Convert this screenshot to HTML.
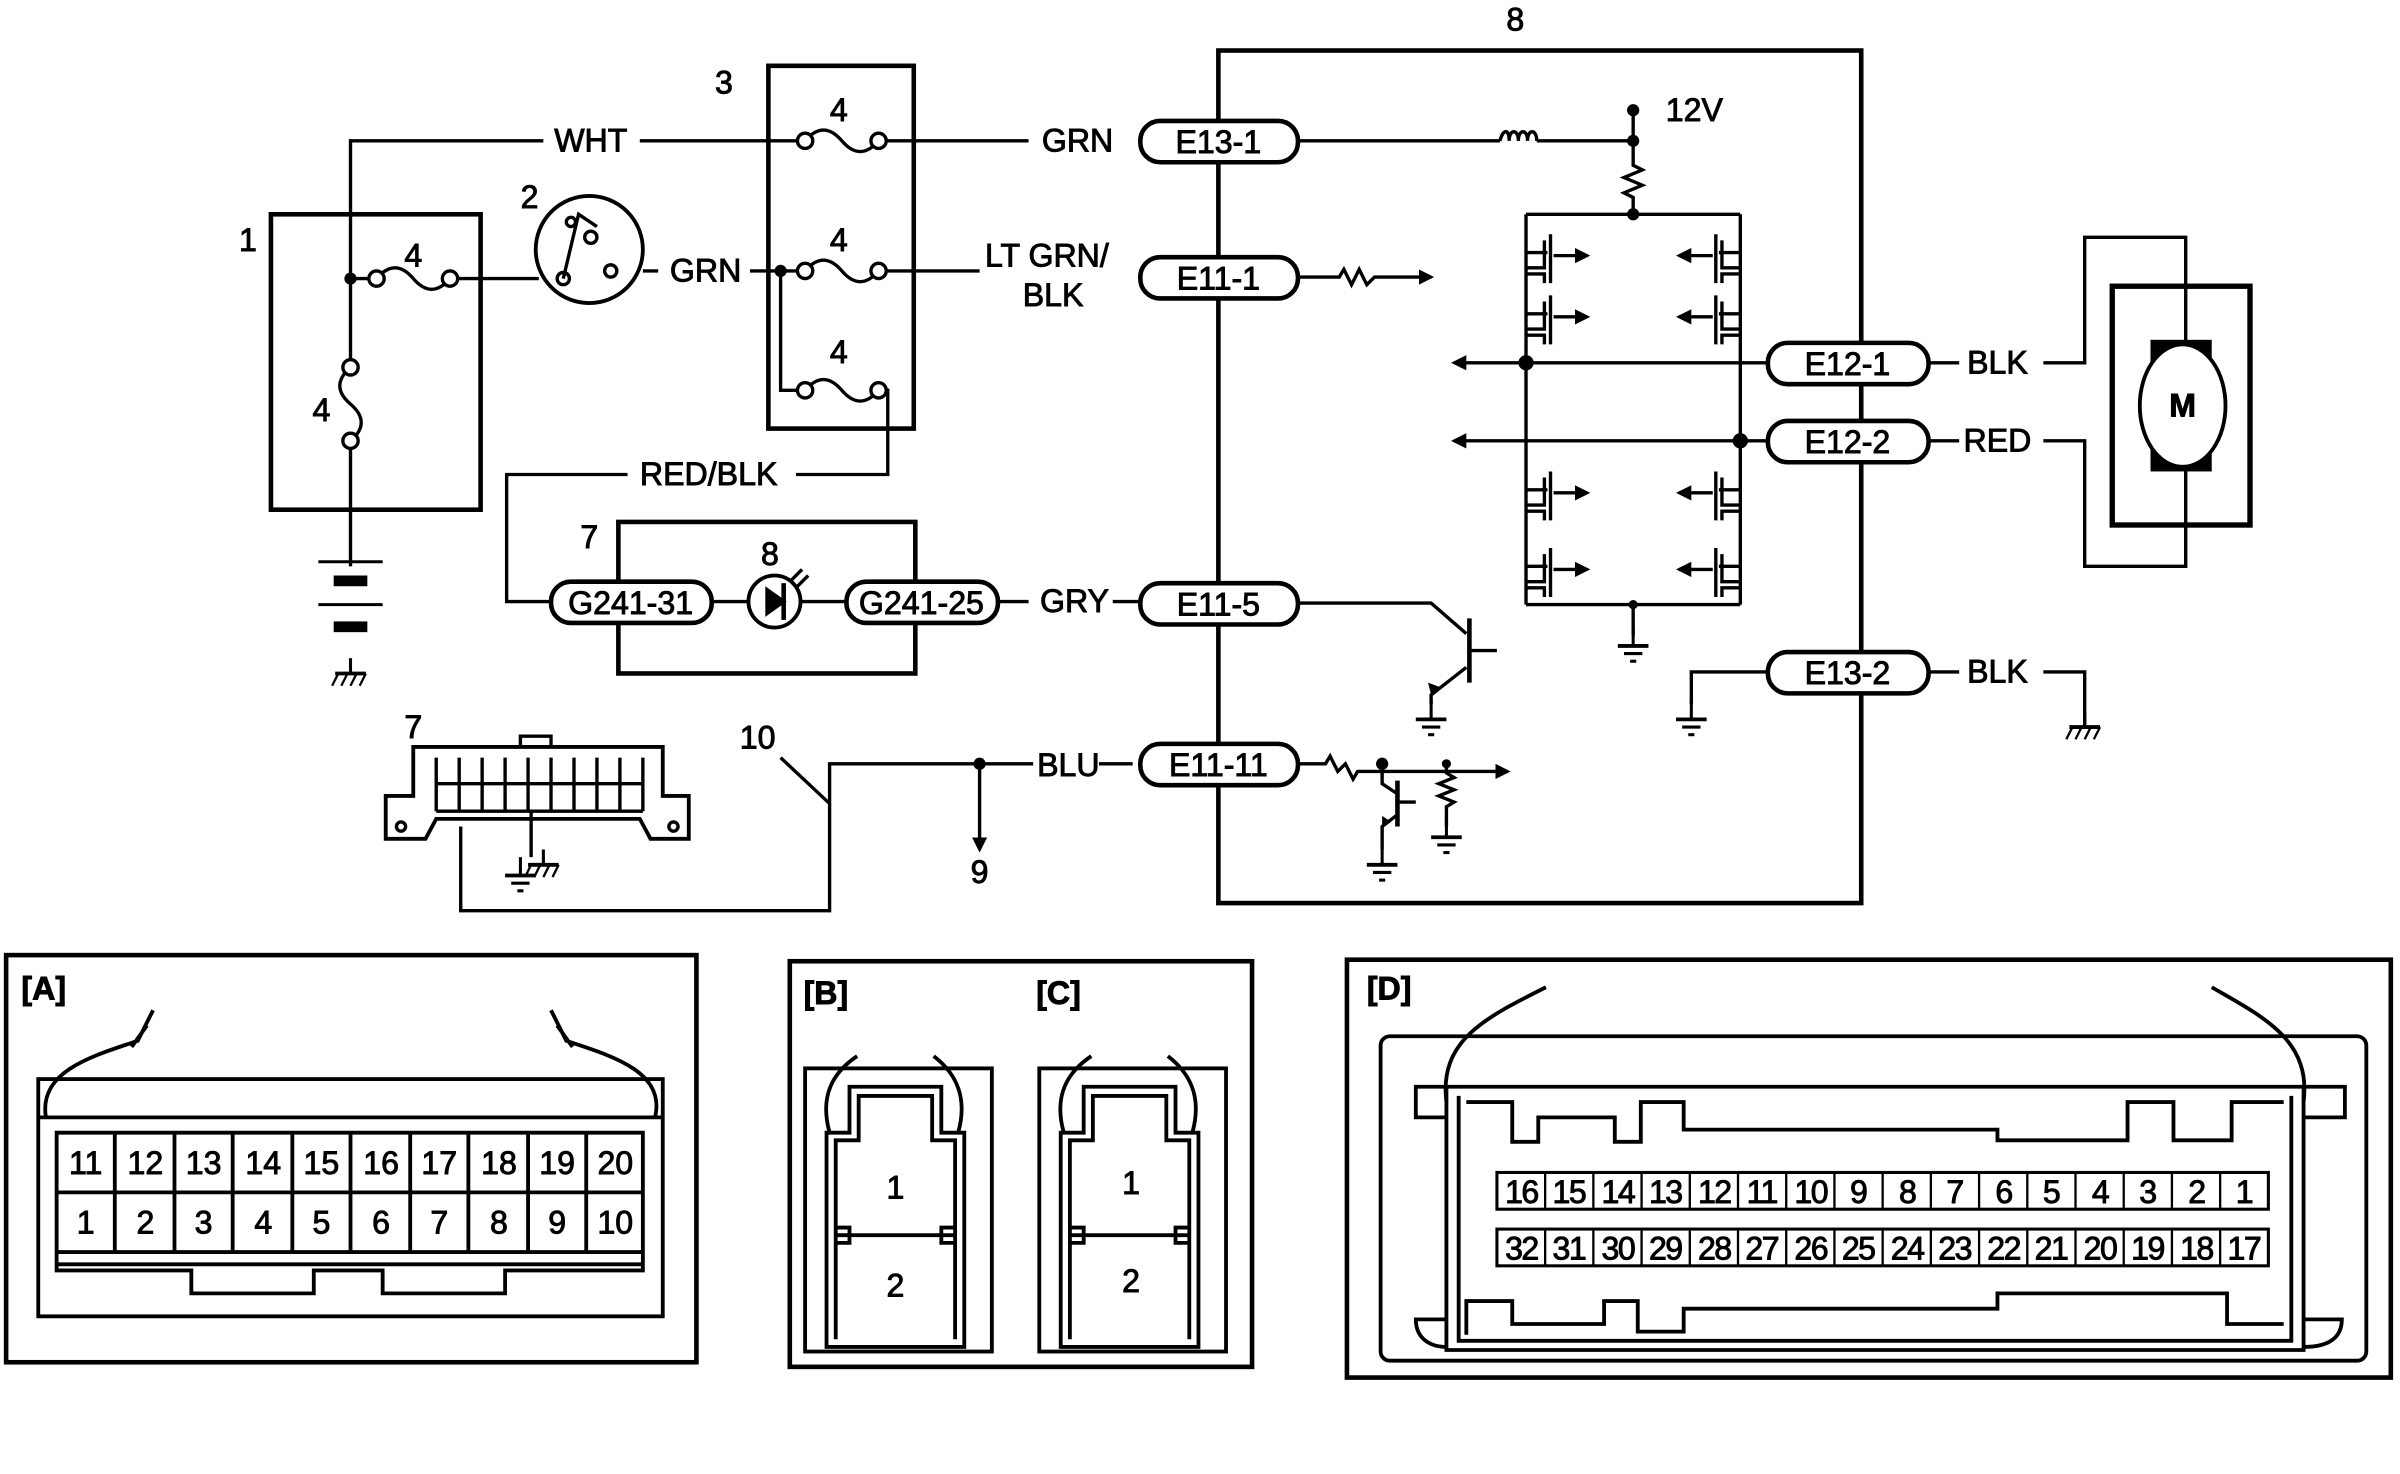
<!DOCTYPE html>
<html><head><meta charset="utf-8"><style>
html,body{margin:0;padding:0;background:#fff}
svg{display:block}
text{font-family:"Liberation Sans",Arial,sans-serif;font-size:21px;fill:#000;stroke:#000;stroke-width:0.6px}
</style></head><body>
<svg width="2400" height="1474" viewBox="0 0 1568 963" xmlns="http://www.w3.org/2000/svg">
<defs>
<marker id="ar" markerWidth="10" markerHeight="10" refX="8" refY="5" orient="auto" markerUnits="userSpaceOnUse"><path d="M0,0 L10,5 L0,10 z" fill="#000"/></marker>
<g id="gnd"><line x1="0" y1="0" x2="0" y2="12" stroke="#000" stroke-width="2"/><line x1="-10" y1="12" x2="10" y2="12" stroke="#000" stroke-width="2.5"/><line x1="-6" y1="17" x2="6" y2="17" stroke="#000" stroke-width="2"/><line x1="-2" y1="22" x2="2" y2="22" stroke="#000" stroke-width="2"/></g>
<g id="cgnd"><line x1="0" y1="0" x2="0" y2="10" stroke="#000" stroke-width="2"/><line x1="-10" y1="10" x2="10" y2="10" stroke="#000" stroke-width="2.5"/><line x1="-8" y1="10" x2="-12" y2="18" stroke="#000" stroke-width="1.5"/><line x1="-2" y1="10" x2="-6" y2="18" stroke="#000" stroke-width="1.5"/><line x1="4" y1="10" x2="0" y2="18" stroke="#000" stroke-width="1.5"/><line x1="10" y1="10" x2="6" y2="18" stroke="#000" stroke-width="1.5"/></g>
<g id="fet" stroke="#000" stroke-width="2.2" fill="none"><path d="M0,0 H12 V-18 M16,-22 V10 M0,-10 H14 M0,4 H12 V10"/><path d="M18,-8 H40" marker-end="url(#ar)"/></g>
</defs>
<g stroke="#000" stroke-width="2.2" fill="none">
<rect x="177" y="140" width="137" height="193" stroke-width="3"/>
<rect x="502" y="43" width="95" height="237" stroke-width="3"/>
<rect x="404" y="341" width="194" height="99" stroke-width="3"/>
<rect x="796" y="33" width="420" height="557" stroke-width="3"/>
<path d="M229,370 V92 H355 M418,92 H526 M574,92 H672"/>
<path d="M526,92 q12,-14 24,0 t24,0"/>
<circle cx="526" cy="92" r="5" fill="#fff"/><circle cx="574" cy="92" r="5" fill="#fff"/>
<path d="M229,182 H246 M294,182 H352"/>
<path d="M246,182 q12,-14 24,0 t24,0"/>
<circle cx="246" cy="182" r="5" fill="#fff"/><circle cx="294" cy="182" r="5" fill="#fff"/>
<rect x="222" y="240" width="14" height="48" fill="#fff" stroke="none"/>
<path d="M229,240 q-14,12 0,24 t0,24"/>
<circle cx="229" cy="240" r="5" fill="#fff"/><circle cx="229" cy="288" r="5" fill="#fff"/>
<circle cx="385" cy="163" r="35" stroke-width="2.5"/>
<circle cx="368" cy="182" r="4"/><circle cx="386" cy="155" r="4"/><circle cx="399" cy="177" r="4"/><circle cx="373" cy="145" r="3"/>
<path d="M368,182 L378,140 L390,148"/>
<path d="M420,177 H430 M490,177 H526 M574,177 H640"/>
<path d="M526,177 q12,-14 24,0 t24,0"/>
<circle cx="526" cy="177" r="5" fill="#fff"/><circle cx="574" cy="177" r="5" fill="#fff"/>
<path d="M510,177 V255 H526 M574,255 H580 V310 H520 M410,310 H331 V393 H360"/>
<path d="M526,255 q12,-14 24,0 t24,0"/>
<circle cx="526" cy="255" r="5" fill="#fff"/><circle cx="574" cy="255" r="5" fill="#fff"/>
<path d="M848,92 H980 M1004,92 H1067 V72 M1067,92 V108 l6,3 -12,5 12,5 -12,5 6,3 V140"/>
<path d="M980,92 c2,-8 6,-8 6,0 c0,-8 6,-8 6,0 c0,-8 6,-8 6,0 c0,-8 6,-8 6,0"/>
<path d="M848,181 H875 l3,-5 5,10 5,-10 5,10 5,-5 H935" marker-end="url(#ar)"/>
<path d="M997,140 H1137 M997,395 H1137 M997,140 V395 M1137,140 V395"/>
<path d="M1155,237 H950" marker-end="url(#ar)"/>
<path d="M1155,288 H950" marker-end="url(#ar)"/>
<path d="M1067,395 V415"/>
<path d="M1260,237 H1280 M1335,237 H1362 V155 H1428 V370 H1362 V288 H1335 M1260,288 H1280"/>
<rect x="1380" y="187" width="90" height="156" stroke-width="3.5"/>
<path d="M465,393 H489 M523,393 H553"/>
<circle cx="506" cy="393" r="17" stroke-width="2.5"/>
<path d="M512,381 V405" stroke-width="3"/>
<path d="M516,380 l8,-8 M520,384 l8,-8"/>
<!-- GRY / E11-5 transistor -->
<path d="M652,393 H672 M727,393 H745 M848,394 H935 L958,414"/>
<path d="M960,404 V446" stroke-width="3"/>
<path d="M960,425 H978 M958,436 L935,454 V460"/>
<!-- E13-2 -->
<path d="M1155,439 H1105 V460 M1260,439 H1280 M1335,439 H1362 V475"/>
<!-- E11-11 -->
<path d="M848,499 H866 l3,-5 5,10 5,-5 5,10 3,-5 H985" marker-end="url(#ar)"/>
<path d="M903,499 V512 L912,518"/>
<path d="M913,510 V540" stroke-width="3"/>
<path d="M913,524 H925 M912,533 L903,540 V555"/>
<path d="M945,499 V505 l5,3 -10,4 10,4 -10,4 10,4 -5,3 V540"/>
<path d="M740,499 H718 M675,499 H542 V595 H301 V540"/>
<path d="M640,499 V555" marker-end="url(#ar)"/>
<path d="M542,525 L510,495"/>
<!-- connector 7 -->
<path d="M270,488 H433 V520 H450 V548 H425 L418,535 H301 H285 L278,548 H252 V520 H270 Z" stroke-width="2.5"/>
<path d="M340,488 V481 H360 V488"/>
<path d="M285,495 V530 M300,495 V530 M315,495 V530 M330,495 V530 M345,495 V530 M360,495 V530 M375,495 V530 M390,495 V530 M405,495 V530 M420,495 V530 M285,512 H420 M285,530 H420"/>
<circle cx="262" cy="540" r="3"/><circle cx="440" cy="540" r="3"/>
<path d="M347,530 V560"/>
</g>
<g fill="#000">
<circle cx="229" cy="182" r="4"/><circle cx="510" cy="177" r="4"/><circle cx="1067" cy="92" r="4"/><circle cx="1067" cy="72" r="4"/><circle cx="1067" cy="140" r="4"/>
<circle cx="997" cy="237" r="5"/><circle cx="1137" cy="288" r="5"/><circle cx="1067" cy="395" r="3"/>
<circle cx="640" cy="499" r="4"/><circle cx="903" cy="499" r="4"/><circle cx="945" cy="499" r="3"/>
<path d="M500,383 L514,393 L500,403 Z"/>
<path d="M935,454 l-2,-8 l8,3 z"/><path d="M903,540 l0,-7 l6,4 z"/>
<rect x="1405" y="222" width="40" height="86"/>
<rect x="218" y="376" width="22" height="7"/><rect x="218" y="406" width="22" height="7"/>
</g>
<ellipse cx="1426" cy="265" rx="28" ry="40" fill="#fff" stroke="#000" stroke-width="2.5"/>
<text x="1426" y="272" text-anchor="middle" font-weight="bold">M</text>
<g stroke="#000" stroke-width="2"><line x1="208" y1="395" x2="250" y2="395"/><line x1="208" y1="367" x2="250" y2="367"/></g>
<use href="#cgnd" x="229" y="430"/>
<use href="#cgnd" x="1362" y="465"/>
<use href="#cgnd" x="355" y="555"/>
<use href="#gnd" x="1067" y="410"/>
<use href="#gnd" x="1105" y="458"/>
<use href="#gnd" x="935" y="458"/>
<use href="#gnd" x="903" y="553"/>
<use href="#gnd" x="945" y="535"/>
<use href="#gnd" x="340" y="560"/>
<use href="#fet" x="997" y="175"/>
<use href="#fet" x="997" y="215"/>
<use href="#fet" x="997" y="330"/>
<use href="#fet" x="997" y="380"/>
<g transform="translate(2134,0) scale(-1,1)">
<use href="#fet" x="997" y="175"/>
<use href="#fet" x="997" y="215"/>
<use href="#fet" x="997" y="330"/>
<use href="#fet" x="997" y="380"/>
</g>
<g fill="#fff" stroke="#000" stroke-width="3">
<rect x="745" y="79" width="103" height="27" rx="13"/>
<rect x="745" y="168" width="103" height="27" rx="13"/>
<rect x="745" y="381" width="103" height="27" rx="13"/>
<rect x="745" y="486" width="103" height="27" rx="13"/>
<rect x="1155" y="224" width="105" height="27" rx="13"/>
<rect x="1155" y="275" width="105" height="27" rx="13"/>
<rect x="1155" y="426" width="105" height="27" rx="13"/>
<rect x="360" y="380" width="105" height="27" rx="13"/>
<rect x="553" y="380" width="99" height="27" rx="13"/>
</g>
<g text-anchor="middle">
<text x="796" y="100">E13-1</text><text x="796" y="189">E11-1</text><text x="796" y="402">E11-5</text><text x="796" y="507">E11-11</text>
<text x="1207" y="245">E12-1</text><text x="1207" y="296">E12-2</text><text x="1207" y="447">E13-2</text>
<text x="412" y="401">G241-31</text><text x="602" y="401">G241-25</text>
<text x="386" y="99">WHT</text><text x="704" y="99">GRN</text><text x="461" y="184">GRN</text>
<text x="684" y="174">LT GRN/</text><text x="688" y="200">BLK</text><text x="463" y="317">RED/BLK</text>
<text x="702" y="400">GRY</text><text x="698" y="507">BLU</text>
<text x="1305" y="244">BLK</text><text x="1305" y="295">RED</text><text x="1305" y="446">BLK</text>
<text x="1107" y="79">12V</text>
<text x="162" y="164">1</text><text x="346" y="136">2</text><text x="473" y="61">3</text><text x="990" y="20">8</text>
<text x="270" y="174">4</text><text x="210" y="275">4</text><text x="548" y="79">4</text><text x="548" y="164">4</text><text x="548" y="237">4</text>
<text x="385" y="358">7</text><text x="503" y="369">8</text><text x="270" y="482">7</text><text x="495" y="489">10</text><text x="640" y="577">9</text>
</g>
<g stroke="#000" fill="none" stroke-width="3">
<rect x="4" y="624" width="451" height="266"/>
<rect x="516" y="628" width="302" height="265"/>
<rect x="880" y="627" width="682" height="273"/>
</g>
<g font-weight="bold"><text x="14" y="653">[A]</text><text x="525" y="656">[B]</text><text x="677" y="656">[C]</text><text x="893" y="653">[D]</text></g>
<g stroke="#000" fill="none" stroke-width="2.5">
<rect x="25" y="705" width="408" height="155"/>
<path d="M25,730 H433"/>
<path d="M37,740 V830 H125 V845 H205 V830 H250 V845 H330 V830 H420 V740 Z"/>
<path d="M37,779 H420 M37,818 H420 M37,826 H420"/>
<path d="M75,740 V818 M114,740 V818 M152,740 V818 M191,740 V818 M229,740 V818 M268,740 V818 M306,740 V818 M345,740 V818 M383,740 V818"/>
<path d="M30,730 C25,700 60,690 90,680 L100,660 M96,670 L86,684"/>
<path d="M428,730 C435,700 400,690 370,680 L360,660 M364,670 L374,684"/>
</g>
<g text-anchor="middle">
<text x="56" y="767">11</text><text x="95" y="767">12</text><text x="133" y="767">13</text><text x="172" y="767">14</text><text x="210" y="767">15</text><text x="249" y="767">16</text><text x="287" y="767">17</text><text x="326" y="767">18</text><text x="364" y="767">19</text><text x="402" y="767">20</text>
<text x="56" y="806">1</text><text x="95" y="806">2</text><text x="133" y="806">3</text><text x="172" y="806">4</text><text x="210" y="806">5</text><text x="249" y="806">6</text><text x="287" y="806">7</text><text x="326" y="806">8</text><text x="364" y="806">9</text><text x="402" y="806">10</text>
</g>
<g stroke="#000" fill="none" stroke-width="2.5">
<rect x="526" y="698" width="122" height="185"/>
<path d="M540,880 V740 H555 V710 H615 V740 H630 V880 Z M546,875 V745 H561 V716 H609 V745 H624 V875"/>
<path d="M546,807 H624 M546,802 H555 V812 H546 M624,802 H615 V812 H624"/>
<path d="M542,740 C535,715 545,700 560,690 M626,740 C633,715 623,700 610,690"/>
<rect x="679" y="698" width="122" height="185"/>
<path d="M693,880 V740 H708 V710 H768 V740 H783 V880 Z M699,875 V745 H714 V716 H762 V745 H777 V875"/>
<path d="M699,807 H777 M699,802 H708 V812 H699 M777,802 H768 V812 H777"/>
<path d="M695,740 C688,715 698,700 713,690 M779,740 C786,715 776,700 763,690"/>
</g>
<g text-anchor="middle"><text x="585" y="783">1</text><text x="585" y="847">2</text><text x="739" y="780">1</text><text x="739" y="844">2</text></g>
<g stroke="#000" fill="none" stroke-width="2.5">
<rect x="902" y="677" width="644" height="212" rx="6"/>
<path d="M945,710 H925 V730 H945 M1505,710 H1532 V730 H1505"/>
<path d="M945,862 H925 C925,875 935,880 945,880 M1505,862 H1530 C1530,875 1520,880 1505,880"/>
<path d="M945,710 H1505 M945,710 V882 H1505 V710"/>
<path d="M953,716 V876 H1497 V716"/>
<path d="M958,720 H988 V746 H1005 V730 H1055 V746 H1072 V720 H1100 V738 H1305 V745 H1390 V720 H1420 V745 H1458 V720 H1492"/>
<path d="M958,872 V850 H988 V865 H1048 V850 H1070 V870 H1100 V855 H1305 V845 H1455 V865 H1492"/>
<path d="M945,720 C940,680 970,665 1010,645 M1505,720 C1510,680 1480,665 1445,645"/>
<rect x="978" y="766" width="504" height="24" stroke-width="2"/>
<rect x="978" y="803" width="504" height="24" stroke-width="2"/>
</g>
<g stroke="#000" stroke-width="1.5">
<path d="M1009.5,766 V790 M1041,766 V790 M1072.5,766 V790 M1104,766 V790 M1135.5,766 V790 M1167,766 V790 M1198.5,766 V790 M1230,766 V790 M1261.5,766 V790 M1293,766 V790 M1324.5,766 V790 M1356,766 V790 M1387.5,766 V790 M1419,766 V790 M1450.5,766 V790"/>
<path d="M1009.5,803 V827 M1041,803 V827 M1072.5,803 V827 M1104,803 V827 M1135.5,803 V827 M1167,803 V827 M1198.5,803 V827 M1230,803 V827 M1261.5,803 V827 M1293,803 V827 M1324.5,803 V827 M1356,803 V827 M1387.5,803 V827 M1419,803 V827 M1450.5,803 V827"/>
</g>
<g text-anchor="middle" style="letter-spacing:-1px">
<text x="994" y="786">16</text><text x="1025" y="786">15</text><text x="1057" y="786">14</text><text x="1088" y="786">13</text><text x="1120" y="786">12</text><text x="1151" y="786">11</text><text x="1183" y="786">10</text><text x="1214" y="786">9</text><text x="1246" y="786">8</text><text x="1277" y="786">7</text><text x="1309" y="786">6</text><text x="1340" y="786">5</text><text x="1372" y="786">4</text><text x="1403" y="786">3</text><text x="1435" y="786">2</text><text x="1466" y="786">1</text>
<text x="994" y="823">32</text><text x="1025" y="823">31</text><text x="1057" y="823">30</text><text x="1088" y="823">29</text><text x="1120" y="823">28</text><text x="1151" y="823">27</text><text x="1183" y="823">26</text><text x="1214" y="823">25</text><text x="1246" y="823">24</text><text x="1277" y="823">23</text><text x="1309" y="823">22</text><text x="1340" y="823">21</text><text x="1372" y="823">20</text><text x="1403" y="823">19</text><text x="1435" y="823">18</text><text x="1466" y="823">17</text>
</g>
</svg>
</body></html>
